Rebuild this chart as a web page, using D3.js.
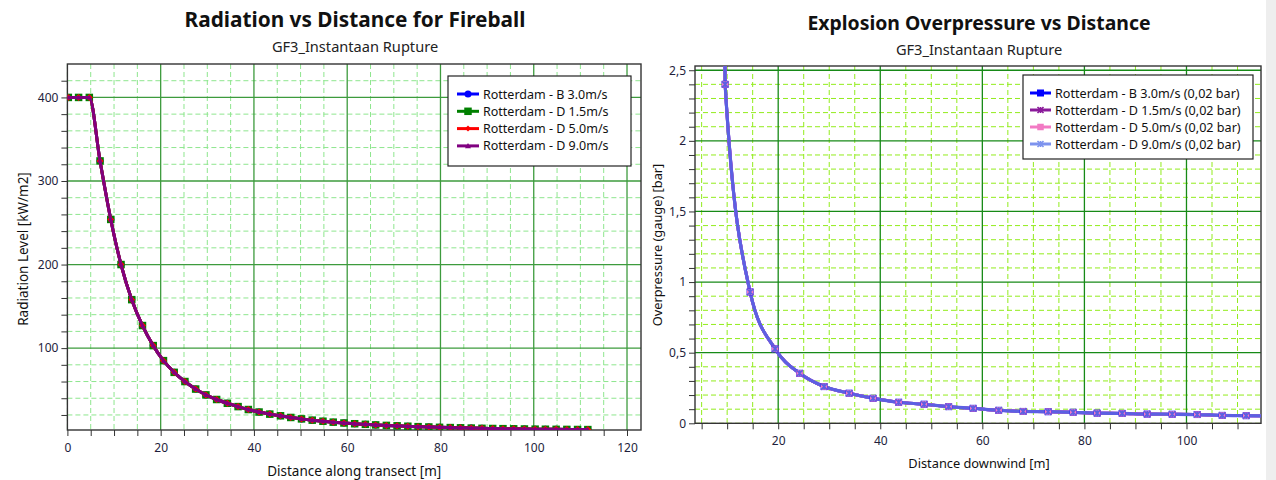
<!DOCTYPE html>
<html>
<head>
<meta charset="utf-8">
<script src="https://cdn.jsdelivr.net/npm/d3@7"></script>
<style>
  body { margin: 0; background: #fff; }
  svg { display: block; font-family: "Noto Sans", sans-serif; }
</style>
</head>
<body>
<svg id="chart" width="1276" height="480"></svg>
<script>
// ---- Radiation vs distance (fireball) ----
const radDistance = [0.2, 2.4, 4.7, 7.0, 9.3, 11.5, 13.8, 16.1, 18.4, 20.6, 22.9, 25.2, 27.5, 29.7, 32.0,
  34.3, 36.6, 38.8, 41.1, 43.4, 45.7, 47.9, 50.2, 52.5, 54.8, 57.0, 59.3, 61.6, 63.9, 66.1, 68.4, 70.7,
  73.0, 75.2, 77.5, 79.8, 82.1, 84.3, 86.6, 88.9, 91.2, 93.4, 95.7, 98.0, 100.3, 102.5, 104.8, 107.1,
  109.4, 111.6];
const radLevel = [400, 400, 400, 324, 254, 200, 158, 127, 103, 85, 71, 60, 51, 44, 38.5,
  34, 30, 26.5, 23.5, 21, 19, 17, 15.3, 13.8, 12.5, 11.4, 10.4, 9.5, 8.8, 8.1, 7.5, 7.0,
  6.5, 6.0, 5.6, 5.2, 4.9, 4.6, 4.3, 4.0, 3.8, 3.6, 3.4, 3.2, 3.0, 2.9, 2.8, 2.7,
  2.6, 2.5];
const radSeries = ["Rotterdam - B 3.0m/s", "Rotterdam - D 1.5m/s", "Rotterdam - D 5.0m/s", "Rotterdam - D 9.0m/s"];
const radXTicks = [0, 20, 40, 60, 80, 100, 120];
const radYTicks = [100, 200, 300, 400];

// ---- Explosion overpressure vs distance ----
const opDistance = [9.3, 9.6, 14.5, 19.4, 24.2, 29.0, 33.9, 38.6, 43.6, 48.6, 53.4, 58.2, 63.2, 68.0,
  72.9, 77.8, 82.5, 87.4, 92.3, 97.2, 102.1, 107.0, 111.7, 116.6];
const opPressure = [4.0, 2.40, 0.93, 0.527, 0.354, 0.26, 0.213, 0.177, 0.149, 0.135, 0.118, 0.106, 0.092,
  0.084, 0.082, 0.078, 0.072, 0.070, 0.065, 0.064, 0.062, 0.056, 0.054, 0.052];
const opSeries = ["Rotterdam - B 3.0m/s (0,02 bar)", "Rotterdam - D 1.5m/s (0,02 bar)",
  "Rotterdam - D 5.0m/s (0,02 bar)", "Rotterdam - D 9.0m/s (0,02 bar)"];
const opXTicks = [20, 40, 60, 80, 100];
const opYTicks = [0, 0.5, 1, 1.5, 2, 2.5];

const svg = d3.select("#chart");

// marker drawing helpers
function marker(g, type, color, size) {
  const s = size / 2;
  if (type === "circle") g.append("circle").attr("r", s).attr("fill", color);
  else if (type === "square") g.append("rect").attr("x", -s).attr("y", -s).attr("width", size).attr("height", size).attr("fill", color);
  else if (type === "diamond") g.append("path").attr("d", `M0,${-s}L${s},0L0,${s}L${-s},0Z`).attr("fill", color);
  else if (type === "triangle") g.append("path").attr("d", `M0,${-s}L${s},${s * 0.8}L${-s},${s * 0.8}Z`).attr("fill", color);
  else if (type === "cross") g.append("path").attr("d", `M${-s},${-s}L${s},${s}M${-s},${s}L${s},${-s}M0,${-s}L0,${s}`)
    .attr("stroke", color).attr("stroke-width", 1.6).attr("fill", "none");
}

function drawChart(cfg) {
  const g = svg.append("g");
  const [x0, x1] = cfg.x.range();
  const [yb, yt] = cfg.y.range();

  // titles
  g.append("text").attr("x", cfg.cx).attr("y", cfg.titleY).attr("text-anchor", "middle")
    .attr("font-size", cfg.titleSize).attr("font-weight", "bold").attr("fill", "#111").text(cfg.title);
  g.append("text").attr("x", cfg.cx).attr("y", cfg.titleY + 25).attr("text-anchor", "middle")
    .attr("font-size", cfg.subSize).attr("fill", "#222").text(cfg.subtitle);

  const clipId = cfg.id + "-clip";
  svg.append("clipPath").attr("id", clipId).append("rect")
    .attr("x", x0).attr("y", yt).attr("width", x1 - x0).attr("height", yb - yt);

  // grid: minor dashed, then major solid
  const grid = g.append("g");
  grid.selectAll(".mv").data(cfg.minorX.filter(v => !cfg.majorX.includes(v))).join("line")
    .attr("x1", d => cfg.x(d)).attr("x2", d => cfg.x(d)).attr("y1", yt).attr("y2", yb)
    .attr("stroke", cfg.minorColor).attr("stroke-dasharray", "5,3");
  grid.selectAll(".mh").data(cfg.minorY.filter(v => !cfg.majorY.includes(v))).join("line")
    .attr("x1", x0).attr("x2", x1).attr("y1", d => cfg.y(d)).attr("y2", d => cfg.y(d))
    .attr("stroke", cfg.minorColor).attr("stroke-dasharray", "5,3");
  grid.selectAll(".Mv").data(cfg.majorX).join("line")
    .attr("x1", d => cfg.x(d)).attr("x2", d => cfg.x(d)).attr("y1", yt).attr("y2", yb)
    .attr("stroke", cfg.majorColor).attr("stroke-width", 1.3);
  grid.selectAll(".Mh").data(cfg.majorY).join("line")
    .attr("x1", x0).attr("x2", x1).attr("y1", d => cfg.y(d)).attr("y2", d => cfg.y(d))
    .attr("stroke", cfg.majorColor).attr("stroke-width", 1.3);

  // plot frame
  g.append("rect").attr("x", x0).attr("y", yt).attr("width", x1 - x0).attr("height", yb - yt)
    .attr("fill", "none").attr("stroke", "#333").attr("stroke-width", 1.4);

  // axes
  const ax = g.append("g").attr("transform", `translate(0,${yb})`)
    .call(d3.axisBottom(cfg.x).tickValues(cfg.minorX).tickSize(6).tickSizeOuter(0)
      .tickFormat(d => cfg.xLabels.includes(d) ? cfg.fmt(d) : ""));
  const ay = g.append("g").attr("transform", `translate(${x0},0)`)
    .call(d3.axisLeft(cfg.y).tickValues(cfg.minorY).tickSize(6).tickSizeOuter(0)
      .tickFormat(d => cfg.yLabels.some(v => Math.abs(v - d) < 1e-9) ? cfg.fmt(d) : ""));
  [ax, ay].forEach(a => {
    a.select(".domain").remove();
    a.selectAll(".tick line").attr("stroke", "#333");
    a.selectAll(".tick text").attr("font-size", 12).attr("fill", "#1e1e3c").attr("font-family", "Noto Sans");
  });
  ax.selectAll(".tick text").attr("dy", "1.05em");

  // axis titles
  g.append("text").attr("x", (x0 + x1) / 2 + cfg.xLabelDx).attr("y", cfg.xLabelY).attr("text-anchor", "middle")
    .attr("font-size", cfg.axisTitleSize).attr("fill", "#111").text(cfg.xTitle);
  g.append("text").attr("transform", `translate(${cfg.yLabelX},${cfg.yLabelCy}) rotate(-90)`)
    .attr("text-anchor", "middle").attr("font-size", cfg.axisTitleSize).attr("fill", "#111").text(cfg.yTitle);

  // series
  const plot = g.append("g").attr("clip-path", `url(#${clipId})`);
  const line = d3.line().x((d, i) => cfg.x(cfg.xs[i])).y(d => cfg.y(d)).curve(d3.curveMonotoneX);
  const pts = cfg.ys.map((v, i) => [cfg.xs[i], v]);
  cfg.series.forEach(s => {
    plot.append("path").datum(cfg.ys).attr("d", line).attr("fill", "none")
      .attr("stroke", s.color).attr("stroke-width", s.width);
    if (!cfg.markersLast) drawMarkers(s);
  });
  if (cfg.markersLast) cfg.series.forEach(drawMarkers);
  function drawMarkers(s) {
    plot.selectAll(null).data(pts.filter(p => !s.skipFirst || p[0] > 9.4)).join("g")
      .attr("transform", p => `translate(${cfg.x(p[0])},${cfg.y(p[1])})`)
      .each(function () { marker(d3.select(this), s.marker, s.mcolor || s.color, s.size); });
  }

  // legend
  const L = cfg.legend;
  const lg = g.append("g");
  lg.append("rect").attr("x", L.x).attr("y", L.y).attr("width", L.w).attr("height", L.h)
    .attr("fill", "#fff").attr("stroke", "#222").attr("stroke-width", 1.2);
  cfg.series.forEach((s, i) => {
    const yy = L.y + L.first + i * L.step;
    lg.append("line").attr("x1", L.x + L.mx0).attr("x2", L.x + L.mx1).attr("y1", yy).attr("y2", yy)
      .attr("stroke", s.legendColor || s.color).attr("stroke-width", 3);
    const mg = lg.append("g").attr("transform", `translate(${L.x + (L.mx0 + L.mx1) / 2},${yy})`);
    marker(mg, s.marker, s.legendColor || s.mcolor || s.color, s.lsize || s.size);
    lg.append("text").attr("x", L.x + L.tx).attr("y", yy + 4.5).attr("font-size", L.fs)
      .attr("fill", "#111").text(s.name);
  });
}

drawChart({
  id: "rad",
  title: "Radiation vs Distance for Fireball",
  subtitle: "GF3_Instantaan Rupture",
  cx: 355, titleY: 27, titleSize: 20.8, subSize: 14.6,
  x: d3.scaleLinear([0, 123], [67.4, 641]),
  y: d3.scaleLinear([2, 440], [430, 64]),
  minorX: d3.range(0, 121, 5), majorX: [20, 40, 60, 80, 100, 120],
  minorY: d3.range(20, 421, 20), majorY: radYTicks,
  xLabels: radXTicks, yLabels: radYTicks,
  fmt: d => String(d),
  minorColor: "#8ee68e", majorColor: "#3d9b3d",
  axisTitleSize: 13.5,
  xTitle: "Distance along transect [m]", xLabelY: 476, xLabelDx: 0,
  yTitle: "Radiation Level [kW/m2]", yLabelX: 28, yLabelCy: 249,
  xs: radDistance, ys: radLevel,
  series: [
    { name: radSeries[0], color: "#0000ff", marker: "circle", size: 7 },
    { name: radSeries[1], color: "#008000", marker: "square", size: 7.5 },
    { name: radSeries[2], color: "#ff0000", marker: "diamond", size: 7, lsize: 6 },
    { name: radSeries[3], color: "#800080", marker: "triangle", size: 5, lsize: 6 }
  ].map(s => Object.assign({ width: 3 }, s)),
  legend: { x: 448, y: 76, w: 183, h: 90, first: 18, step: 17.3, mx0: 9, mx1: 31, tx: 35, fs: 12.5 }
});

drawChart({
  id: "op",
  title: "Explosion Overpressure vs Distance",
  subtitle: "GF3_Instantaan Rupture",
  cx: 979, titleY: 30, titleSize: 19.4, subSize: 14.6,
  x: d3.scaleLinear([3.7, 114.6], [695, 1261]),
  y: d3.scaleLinear([0, 2.53], [423.3, 66]),
  minorX: d3.range(5, 111, 5), majorX: [20, 40, 60, 80, 100],
  minorY: d3.range(0, 26).map(v => +(v / 10).toFixed(1)), majorY: [0.5, 1, 1.5, 2, 2.5],
  xLabels: opXTicks, yLabels: opYTicks,
  fmt: d => String(d).replace(".", ","),
  minorColor: "#92ec1c", majorColor: "#178a17",
  axisTitleSize: 12.8,
  xTitle: "Distance downwind [m]", xLabelY: 468, xLabelDx: 1,
  yTitle: "Overpressure (gauge) [bar]", yLabelX: 662, yLabelCy: 245,
  xs: opDistance, ys: opPressure, markersLast: true,
  series: [
    { name: opSeries[0], color: "#0000ff", marker: "square", size: 7, width: 3, skipFirst: true },
    { name: opSeries[1], color: "#8a1a9a", marker: "cross", size: 6, width: 3, skipFirst: true },
    { name: opSeries[2], color: "#f27ac4", marker: "square", size: 6.5, width: 3, skipFirst: true },
    { name: opSeries[3], color: "#5c60e2", marker: "cross", size: 6, width: 3.2, skipFirst: true, legendColor: "#7d93ee" }
  ],
  legend: { x: 1023, y: 75, w: 230, h: 84, first: 18, step: 17, mx0: 7, mx1: 28, tx: 32, fs: 12.6 }
});

// light strip along the right edge of the page
svg.append("rect").attr("x", 1266).attr("y", 0).attr("width", 10).attr("height", 480).attr("fill", "#eeeeee");
</script>
</body>
</html>
